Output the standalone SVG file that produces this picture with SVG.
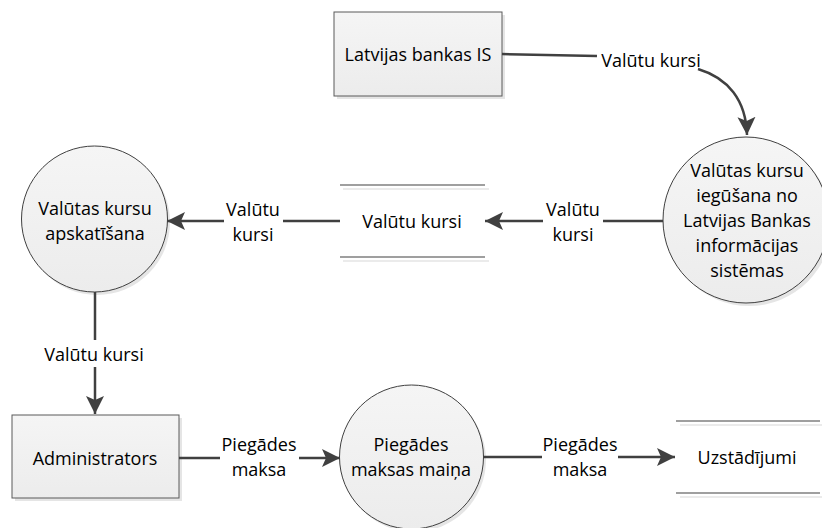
<svg xmlns="http://www.w3.org/2000/svg" width="822" height="528" viewBox="0 0 822 528">
<style>
text{font-family:"Open Sans","Liberation Sans",sans-serif;font-size:18px;fill:#000;text-anchor:middle}
.ent{fill:url(#g);stroke:#5a5a5a;stroke-width:1}
.proc{fill:url(#g);stroke:#404040;stroke-width:1}
.sh{fill:#d0d0d0;opacity:0.55}
.store{stroke:#404040;stroke-width:1.2}
.storesh{stroke:#d8d8d8;stroke-width:1.2}
.flow{fill:none;stroke:#404040;stroke-width:2.5}
</style>
<defs>
<linearGradient id="g" x1="0" y1="0" x2="0" y2="1">
<stop offset="0" stop-color="#f5f5f5"/>
<stop offset="1" stop-color="#ececec"/>
</linearGradient>
<marker id="arr" markerUnits="userSpaceOnUse" markerWidth="20" markerHeight="20" viewBox="0 0 20 20" refX="18" refY="10" orient="auto">
<path d="M0,1 L18,10 L0,19 L4,10 z" fill="#404040"/>
</marker>
</defs>
<rect width="822" height="528" fill="#fff"/>

<g id="latvijas-bankas-is">
<rect class="sh" x="337" y="15" width="168" height="84"/>
<rect class="ent" x="334" y="12" width="168" height="84"/>
<text x="418" y="61">Latvijas bankas IS</text>
</g>

<g id="valutas-kursu-iegusana">
<circle class="sh" cx="749" cy="223" r="83"/>
<circle class="proc" cx="746" cy="220" r="83"/>
<text x="747" y="177">Valūtas kursu</text>
<text x="747" y="202">iegūšana no</text>
<text x="747" y="227">Latvijas Bankas</text>
<text x="747" y="252">informācijas</text>
<text x="747" y="277">sistēmas</text>
</g>

<g id="store-valutu-kursi">
<line class="storesh" x1="343" y1="189" x2="489" y2="189"/>
<line class="storesh" x1="343" y1="261" x2="489" y2="261"/>
<line class="store" x1="340" y1="185" x2="485" y2="185"/>
<line class="store" x1="340" y1="257" x2="485" y2="257"/>
<text x="412" y="228">Valūtu kursi</text>
</g>

<g id="valutas-kursu-apskatisana">
<circle class="sh" cx="97" cy="222" r="73"/>
<circle class="proc" cx="94.5" cy="219" r="73"/>
<text x="95" y="215">Valūtas kursu</text>
<text x="95" y="240">apskatīšana</text>
</g>

<g id="administrators">
<rect class="sh" x="15" y="418" width="167" height="83"/>
<rect class="ent" x="12" y="415" width="167" height="83"/>
<text x="95" y="465">Administrators</text>
</g>

<g id="piegades-maksas-maina">
<circle class="sh" cx="414" cy="460" r="72"/>
<circle class="proc" cx="411.5" cy="457" r="72"/>
<text x="411" y="451">Piegādes</text>
<text x="411" y="476">maksas maiņa</text>
</g>

<g id="store-uzstadijumi">
<line class="storesh" x1="680" y1="425" x2="822" y2="425"/>
<line class="storesh" x1="680" y1="497" x2="822" y2="497"/>
<line class="store" x1="676" y1="421" x2="820" y2="421"/>
<line class="store" x1="676" y1="493" x2="820" y2="493"/>
<text x="747" y="464">Uzstādījumi</text>
</g>

<g id="connectors">
<path class="flow" d="M502,54 L597,56"/>
<path class="flow" d="M698,69 C728,78 746,100 747,135" marker-end="url(#arr)"/>
<text x="651" y="67">Valūtu kursi</text>

<path class="flow" d="M663,221 L603,221"/>
<path class="flow" d="M543,221 L485,221" marker-end="url(#arr)"/>
<text x="573" y="216">Valūtu</text>
<text x="573" y="241">kursi</text>

<path class="flow" d="M340,221 L283,221"/>
<path class="flow" d="M224,221 L167,221" marker-end="url(#arr)"/>
<text x="253" y="216">Valūtu</text>
<text x="253" y="241">kursi</text>

<path class="flow" d="M95,292 L95,340"/>
<path class="flow" d="M95,367 L95,414" marker-end="url(#arr)"/>
<text x="94" y="361">Valūtu kursi</text>

<path class="flow" d="M179,458 L220,458"/>
<path class="flow" d="M299,458 L340,458" marker-end="url(#arr)"/>
<text x="259" y="451">Piegādes</text>
<text x="259" y="476">maksa</text>

<path class="flow" d="M483,457 L542,457"/>
<path class="flow" d="M618,457 L675,457" marker-end="url(#arr)"/>
<text x="580" y="451">Piegādes</text>
<text x="580" y="476">maksa</text>
</g>
</svg>
